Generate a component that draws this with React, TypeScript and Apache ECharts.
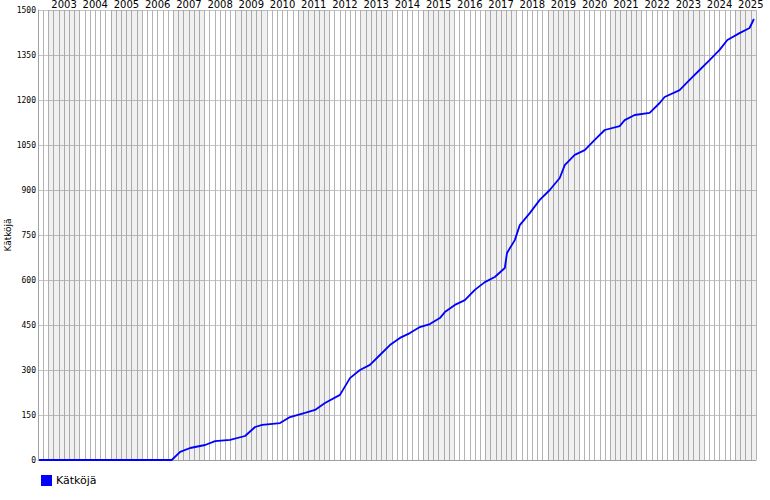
import React, { useEffect, useRef } from "react";
import * as echarts from "echarts";

const years: number[] = [2002.7, 2006.95, 2007.22, 2007.54, 2008.02, 2008.34, 2008.82, 2009.30, 2009.62, 2009.85, 2010.42, 2010.74, 2011.22, 2011.54, 2011.86, 2012.34, 2012.66, 2012.98, 2013.30, 2013.62, 2013.94, 2014.26, 2014.58, 2014.90, 2015.22, 2015.54, 2015.70, 2016.02, 2016.34, 2016.66, 2016.98, 2017.30, 2017.62, 2017.69, 2017.94, 2018.10, 2018.42, 2018.74, 2019.06, 2019.38, 2019.54, 2019.86, 2020.18, 2020.50, 2020.82, 2021.30, 2021.46, 2021.78, 2022.26, 2022.58, 2022.74, 2023.22, 2023.54, 2023.86, 2024.18, 2024.50, 2024.75, 2025.14, 2025.46, 2025.6];
const caches: number[] = [0, 0, 27, 40, 50, 63, 67, 80, 110, 117, 123, 143, 157, 167, 190, 217, 273, 300, 317, 350, 383, 407, 423, 443, 453, 473, 493, 517, 533, 567, 593, 610, 640, 690, 733, 783, 823, 867, 900, 940, 983, 1017, 1033, 1067, 1100, 1113, 1133, 1150, 1157, 1190, 1210, 1233, 1267, 1300, 1333, 1367, 1400, 1423, 1440, 1470];
const yearLabels: number[] = [2003, 2004, 2005, 2006, 2007, 2008, 2009, 2010, 2011, 2012, 2013, 2014, 2015, 2016, 2017, 2018, 2019, 2020, 2021, 2022, 2023, 2024, 2025];
const shadedYears: number[] = yearLabels.filter((y) => y % 2 === 1);

const X_MIN = 2002 + 4 / 6;
const X_MAX = 2025 + 4 / 6;

export default function App() {
  const ref = useRef<HTMLDivElement>(null);
  useEffect(() => {
    if (!ref.current) return;
    const chart = echarts.init(ref.current, null, { renderer: "svg" });
    const data = years.map((y, i) => [y, caches[i]]);
    chart.setOption({
      animation: false,
      backgroundColor: "#fff",
      grid: { left: 38, right: 14, top: 10, bottom: 40, containLabel: false, outerBoundsMode: "none" },
      legend: {
        left: 36,
        bottom: 9,
        itemWidth: 11,
        itemHeight: 11,
        icon: "rect",
        itemGap: 4,
        textStyle: { fontFamily: "DejaVu Sans", fontSize: 11, color: "#000", padding: [0, 0, 0, -1] },
        data: ["Kätköjä"],
      },
      xAxis: [
        {
          type: "value",
          min: X_MIN,
          max: X_MAX,
          interval: 1 / 6,
          axisLine: { show: true, onZero: false, lineStyle: { color: "#a0a0a0" } },
          axisTick: { show: false },
          axisLabel: { show: false },
          splitLine: { show: true, lineStyle: { color: "#b4b4b4", width: 1 } },
        },
        {
          type: "value",
          position: "top",
          min: X_MIN,
          max: X_MAX,
          axisLine: { show: false },
          axisTick: { show: false },
          splitLine: { show: false },
          axisLabel: {
            show: true,
            customValues: yearLabels.map((y) => y + 0.5),
            formatter: (v: number) => String(Math.floor(v)),
            fontFamily: "DejaVu Sans",
            fontSize: 10,
            color: "#000",
            margin: 1,
            hideOverlap: false,
          },
        },
      ],
      yAxis: {
        type: "value",
        min: 0,
        max: 1500,
        interval: 150,
        name: "Kätköjä",
        nameLocation: "middle",
        nameGap: 26,
        nameRotate: 90,
        nameMoveOverlap: false,
        nameTextStyle: { fontFamily: "DejaVu Sans", fontSize: 9, color: "#000" },
        axisLine: { show: true, lineStyle: { color: "#a0a0a0" } },
        axisTick: { show: false },
        axisLabel: {
          fontFamily: "DejaVu Sans Mono",
          fontSize: 8,
          color: "#000",
          margin: 2,
          formatter: (v: number) => String(v),
        },
        splitLine: { show: true, lineStyle: { color: "#c4c4c4" } },
      },
      series: [
        {
          name: "Kätköjä",
          type: "line",
          xAxisIndex: 0,
          data,
          symbol: "none",
          color: "#0000ff",
          lineStyle: { color: "#0000ff", width: 1.8 },
          z: 5,
          markArea: {
            silent: true,
            itemStyle: { color: "rgba(0,0,0,0.06)" },
            data: shadedYears.map((y) => [{ xAxis: y }, { xAxis: Math.min(y + 1, X_MAX) }]),
          },
        },
      ],
    });
    return () => chart.dispose();
  }, []);
  return (
    <div
      ref={ref}
      style={{ position: "fixed", left: 0, top: 0, width: 770, height: 500 }}
    />
  );
}
